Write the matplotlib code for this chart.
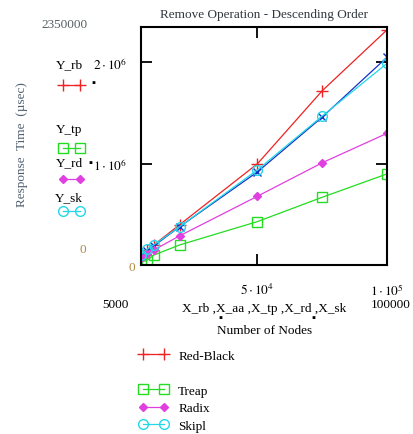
import matplotlib
matplotlib.use("Agg")
import matplotlib.pyplot as plt
from matplotlib.lines import Line2D

# number of nodes
nodes = [5000, 7500, 10000, 20000, 50000, 75000, 100000]

# response time (usec) per tree
y_rb = [100000, 150000, 200000, 400000, 1000000, 1720000, 2320000]
y_aa = [90000, 140000, 190000, 380000, 920000, 1460000, 2050000]
y_tp = [30000, 50000, 100000, 200000, 430000, 670000, 900000]
y_rd = [70000, 110000, 150000, 290000, 680000, 1010000, 1300000]
y_sk = [100000, 160000, 200000, 380000, 940000, 1470000, 1990000]

x_min, x_max = 5000, 100000
y_min, y_max = 0, 2350000

plt.rcParams['font.family'] = ['Liberation Serif', 'DejaVu Serif']
plt.rcParams['mathtext.fontset'] = 'stix'
fs = 9.5

fig = plt.figure(figsize=(4.13, 4.35), dpi=100)
ax = fig.add_axes([0.341, 0.388, 0.596, 0.548])

l_rb, = ax.plot(nodes, y_rb, color='#ee2222', lw=0.9, marker='+', ms=8, mew=1.0)
l_aa, = ax.plot(nodes, y_aa, color='#1530c8', lw=0.9, marker='x', ms=6, mew=1.0)
l_tp, = ax.plot(nodes, y_tp, color='#22dd22', lw=0.9, marker='s', ms=7, mfc='none', mew=1.0)
l_rd, = ax.plot(nodes, y_rd, color='#e040e0', lw=0.9, marker='D', ms=4, mew=1.0)
l_sk, = ax.plot(nodes, y_sk, color='#22d8e8', lw=0.9, marker='o', ms=7, mfc='none', mew=1.0)

ax.set_xlim(x_min, x_max)
ax.set_ylim(y_min, y_max)
for s in ax.spines.values():
    s.set_linewidth(1.5)

ax.set_xticks([50000, 100000])
ax.set_xticklabels([r'$5\cdot10^{4}$', r'$1\cdot10^{5}$'], fontsize=fs)
ax.set_yticks([1000000, 2000000])
ax.set_yticklabels([r'$1\cdot10^{6}$', r'$2\cdot10^{6}$'], fontsize=fs)
ax.tick_params(axis='both', direction='in', length=8, width=1.3,
               top=True, right=True)
ax.tick_params(axis='x', pad=12)
ax.tick_params(axis='y', pad=10)

ax.set_title('Remove Operation - Descending Order', fontsize=fs, pad=7,
             color='#303840')
ax.set_xlabel('X_rb ,X_aa ,X_tp ,X_rd ,X_sk', fontsize=fs, labelpad=3)

# Mathcad-style range labels
fig.text(115 / 413, 1 - 305 / 435, '5000', fontsize=fs, ha='center', va='center')
fig.text(411 / 413, 1 - 305 / 435, '100000', fontsize=fs, ha='right', va='center')
fig.text(64 / 413, 1 - 25 / 435, '2350000', fontsize=fs, ha='center', va='center',
         color='#556066')
fig.text(132 / 413, 1 - 268 / 435, '0', fontsize=fs, ha='center', va='center',
         color='#b08a40')
fig.text(83 / 413, 1 - 250 / 435, '0', fontsize=fs, ha='center', va='center',
         color='#b08a40')
fig.text(265 / 413, 1 - 331 / 435, 'Number of Nodes', fontsize=fs, ha='center',
         va='center')
fig.text(22 / 413, 1 - 145 / 435, 'Response  Time  (\u00b5sec)', fontsize=fs,
         ha='center', va='center', rotation=90, color='#506070')

# little placeholder squares
for px, py in [(93, 84), (90, 163), (220, 319), (313, 319)]:
    fig.text(px / 413, 1 - py / 435, '\u25aa', fontsize=8, ha='center', va='center')

# left side trace names
for name, py in [('Y_rb', 65), ('Y_tp', 130), ('Y_rd', 163), ('Y_sk', 198)]:
    fig.text(69 / 413, 1 - py / 435, name, fontsize=fs, ha='center', va='center')

blank = Line2D([], [], color='none')
fig.legend([l_rb, blank, l_tp, l_rd, l_sk], ['', '', '', '', ''],
           loc='upper left', bbox_to_anchor=(52 / 413, 1 - 75 / 435),
           frameon=False, handlelength=1.9, handletextpad=0, numpoints=2,
           labelspacing=1.45, fontsize=fs, borderpad=0)

fig.legend([l_rb, blank, l_tp, l_rd, l_sk],
           ['Red-Black', '', 'Treap', 'Radix', 'Skipl'],
           loc='upper left', bbox_to_anchor=(132 / 413, 1 - 344 / 435),
           frameon=False, handlelength=2.2, handletextpad=0.8, numpoints=2,
           labelspacing=0.4, fontsize=fs, borderpad=0)

fig.savefig('out.png', dpi=100)
